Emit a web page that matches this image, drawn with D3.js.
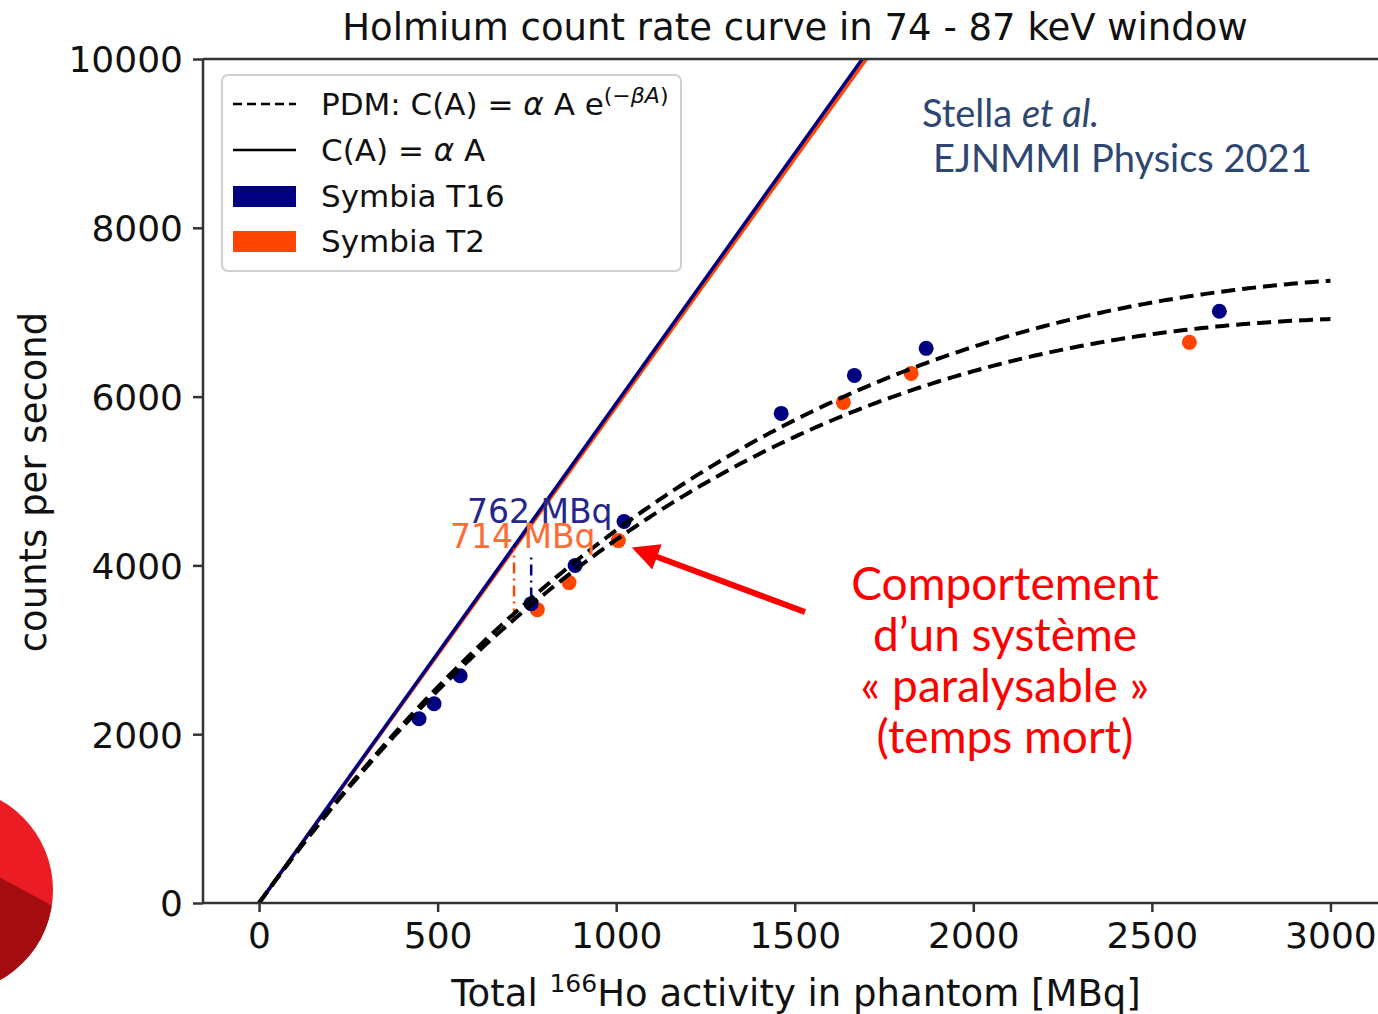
<!DOCTYPE html>
<html>
<head>
<meta charset="utf-8">
<script src="https://cdn.jsdelivr.net/npm/d3@7"></script>
<style>
body { margin: 0; background: #fff; }
svg { display: block; }
</style>
</head>
<body>
<svg id="main" width="1378" height="1014"></svg>
<script>
// measured points (MBq, counts/s)
var t16Activity = [448, 490, 563, 762, 885, 1022, 1462, 1667, 1868, 2689];
var t16Counts = [2183, 2361, 2693, 3547, 3998, 4520, 5801, 6251, 6572, 7011];
var t2Activity = [779, 868, 1006, 1636, 1826, 2605];
var t2Counts = [3476, 3796, 4294, 5931, 6275, 6643];

// fit parameters: [T16, T2]
var fitAlpha = [5.92, 5.88];
var fitBeta = [2.93e-4, 3.12e-4];
var markerActivity = [762, 714];
var markerTop = [4100, 4200];
var markerLabels = ["762 MBq", "714 MBq"];

var xTicks = [0, 500, 1000, 1500, 2000, 2500, 3000];
var yTicks = [0, 2000, 4000, 6000, 8000, 10000];
var curveSteps = [0, 3000];

var navy = "#000080";
var orange = "#ff4500";

window.onload = function() {
var svg = d3.select("#main");
var left = 203, right = 1384, top = 59, bottom = 903;

var x = d3.scaleLinear().domain([-157, 3150]).range([left, right]);
var y = d3.scaleLinear().domain([0, 10000]).range([bottom, top]);

// slide decoration, bottom-left disc
var disc = svg.append("g");
disc.append("clipPath").attr("id", "discclip")
	.append("circle").attr("cx", -50).attr("cy", 890).attr("r", 103);
disc.append("circle").attr("cx", -50).attr("cy", 890).attr("r", 103).attr("fill", "#ec1c24");
disc.append("polygon")
	.attr("points", "-160,791 60,910 60,1000 -160,1000")
	.attr("fill", "#a30d12")
	.attr("clip-path", "url(#discclip)");

svg.append("clipPath").attr("id", "plotclip")
	.append("rect").attr("x", left).attr("y", top).attr("width", right - left).attr("height", bottom - top);

var plot = svg.append("g").attr("clip-path", "url(#plotclip)");

// model curves
var samples = d3.range(curveSteps[0], curveSteps[1] + 1, 10);
var line = d3.line().x(function(d){ return x(d[0]); }).y(function(d){ return y(d[1]); });

// linear C = alpha A, T2 below T16
[1, 0].forEach(function(i){
	plot.append("path")
		.attr("d", line([[0, 0], [3000, fitAlpha[i] * 3000]]))
		.attr("fill", "none")
		.attr("stroke", i == 0 ? navy : orange)
		.attr("stroke-width", 3.5);
});

// dead time markers
[1, 0].forEach(function(i){
	var a = markerActivity[i];
	plot.append("line")
		.attr("x1", x(a)).attr("x2", x(a))
		.attr("y1", y(fitAlpha[i] * a * Math.exp(-fitBeta[i] * a)))
		.attr("y2", y(markerTop[i]))
		.attr("stroke", i == 0 ? navy : orange)
		.attr("stroke-width", 2.5)
		.attr("stroke-dasharray", "11,5,2,5");
});

// points
plot.selectAll("circle.t2").data(d3.zip(t2Activity, t2Counts)).enter()
	.append("circle").attr("class", "t2")
	.attr("cx", function(d){ return x(d[0]); })
	.attr("cy", function(d){ return y(d[1]); })
	.attr("r", 7.5).attr("fill", orange);
plot.selectAll("circle.t16").data(d3.zip(t16Activity, t16Counts)).enter()
	.append("circle").attr("class", "t16")
	.attr("cx", function(d){ return x(d[0]); })
	.attr("cy", function(d){ return y(d[1]); })
	.attr("r", 7.5).attr("fill", navy);

// PDM: C(A) = alpha A exp(-beta A)
[0, 1].forEach(function(i){
	plot.append("path")
		.attr("d", line(samples.map(function(a){ return [a, fitAlpha[i] * a * Math.exp(-fitBeta[i] * a)]; })))
		.attr("fill", "none")
		.attr("stroke", "#000")
		.attr("stroke-width", 4)
		.attr("stroke-dasharray", "14,7");
});

// marker labels
svg.append("text").attr("x", 467).attr("y", 523)
	.attr("font-family", "DejaVu Sans").attr("font-size", 33).attr("fill", "#26268c")
	.text(markerLabels[0]);
svg.append("text").attr("x", 450).attr("y", 548)
	.attr("font-family", "DejaVu Sans").attr("font-size", 33).attr("fill", "#ff6a35")
	.text(markerLabels[1]);

// axes
var xAxis = svg.append("g").attr("transform", "translate(0," + bottom + ")")
	.call(d3.axisBottom(x).tickValues(xTicks).tickFormat(d3.format("d")).tickSize(9).tickPadding(10));
var yAxis = svg.append("g").attr("transform", "translate(" + left + ",0)")
	.call(d3.axisLeft(y).tickValues(yTicks).tickFormat(d3.format("d")).tickSize(10).tickPadding(10));
[xAxis, yAxis].forEach(function(g){
	g.select(".domain").remove();
	g.selectAll("line").attr("stroke", "#333").attr("stroke-width", 2.5);
	g.selectAll("text").attr("font-family", "DejaVu Sans").attr("font-size", 36).attr("fill", "#111");
});
yAxis.selectAll("text").attr("dy", "0.36em");

// spines
svg.append("line").attr("x1", left).attr("x2", left).attr("y1", top).attr("y2", bottom).attr("stroke", "#333").attr("stroke-width", 2.5);
svg.append("line").attr("x1", left).attr("x2", 1378).attr("y1", bottom).attr("y2", bottom).attr("stroke", "#333").attr("stroke-width", 2.5);
svg.append("line").attr("x1", left).attr("x2", 1378).attr("y1", top).attr("y2", top).attr("stroke", "#333").attr("stroke-width", 2.5);

// title and labels
svg.append("text").attr("x", 795).attr("y", 40).attr("text-anchor", "middle")
	.attr("font-family", "DejaVu Sans").attr("font-size", 37).attr("fill", "#111")
	.text("Holmium count rate curve in 74 - 87 keV window");

var xl = svg.append("text").attr("x", 796).attr("y", 1006).attr("text-anchor", "middle")
	.attr("font-family", "DejaVu Sans").attr("font-size", 37).attr("fill", "#111");
xl.append("tspan").text("Total ");
xl.append("tspan").attr("font-size", 25).attr("dy", -14).text("166");
xl.append("tspan").attr("dy", 14).text("Ho activity in phantom [MBq]");

svg.append("text").attr("transform", "translate(46,482) rotate(-90)").attr("text-anchor", "middle")
	.attr("font-family", "DejaVu Sans").attr("font-size", 37).attr("fill", "#111")
	.text("counts per second");

// legend
var lg = svg.append("g");
lg.append("rect").attr("x", 222).attr("y", 75).attr("width", 459).attr("height", 196).attr("rx", 6)
	.attr("fill", "#fff").attr("fill-opacity", 0.8).attr("stroke", "#d0d0d0").attr("stroke-width", 2);
lg.append("line").attr("x1", 233).attr("x2", 296).attr("y1", 104).attr("y2", 104)
	.attr("stroke", "#000").attr("stroke-width", 2.5).attr("stroke-dasharray", "9,5");
lg.append("line").attr("x1", 233).attr("x2", 296).attr("y1", 150).attr("y2", 150)
	.attr("stroke", "#000").attr("stroke-width", 2.5);
lg.append("rect").attr("x", 233).attr("y", 186).attr("width", 63).attr("height", 21).attr("fill", navy);
lg.append("rect").attr("x", 233).attr("y", 231).attr("width", 63).attr("height", 21).attr("fill", orange);

var lt = lg.append("g").attr("font-family", "DejaVu Sans").attr("font-size", 31).attr("fill", "#111");
var t1 = lt.append("text").attr("x", 321).attr("y", 115);
t1.append("tspan").text("PDM: C(A) = ");
t1.append("tspan").attr("font-style", "italic").text("α");
t1.append("tspan").text(" A e");
t1.append("tspan").attr("font-size", 22).attr("dy", -12).text("(−");
t1.append("tspan").attr("font-size", 22).attr("font-style", "italic").text("βA");
t1.append("tspan").attr("font-size", 22).text(")");
var t2 = lt.append("text").attr("x", 321).attr("y", 161);
t2.append("tspan").text("C(A) = ");
t2.append("tspan").attr("font-style", "italic").text("α");
t2.append("tspan").text(" A");
lt.append("text").attr("x", 321).attr("y", 207).text("Symbia T16");
lt.append("text").attr("x", 321).attr("y", 252).text("Symbia T2");

// reference note
var ref = svg.append("g").attr("font-family", "Lato").attr("font-size", 38).attr("fill", "#2e4672");
var r1 = ref.append("text").attr("x", 922).attr("y", 127);
r1.append("tspan").text("Stella ");
r1.append("tspan").attr("font-style", "italic").text("et al.");
ref.append("text").attr("x", 933).attr("y", 172).text("EJNMMI Physics 2021");

// arrow and comment
svg.append("defs").append("marker").attr("id", "head")
	.attr("viewBox", "0 0 10 10").attr("refX", 2).attr("refY", 5)
	.attr("markerWidth", 4.5).attr("markerHeight", 4.5).attr("orient", "auto")
	.append("path").attr("d", "M0,0 L10,5 L0,10 z").attr("fill", "#f00");
svg.append("line").attr("x1", 805).attr("y1", 612).attr("x2", 652).attr("y2", 555)
	.attr("stroke", "#f00").attr("stroke-width", 6).attr("marker-end", "url(#head)");

var note = svg.append("g").attr("font-family", "Lato").attr("font-size", 46).attr("fill", "#f00").attr("text-anchor", "middle");
["Comportement", "d’un système", "« paralysable »", "(temps mort)"].forEach(function(s, i){
	note.append("text").attr("x", 1005).attr("y", 600 + i * 51).text(s);
});
}
</script>
</body>
</html>
